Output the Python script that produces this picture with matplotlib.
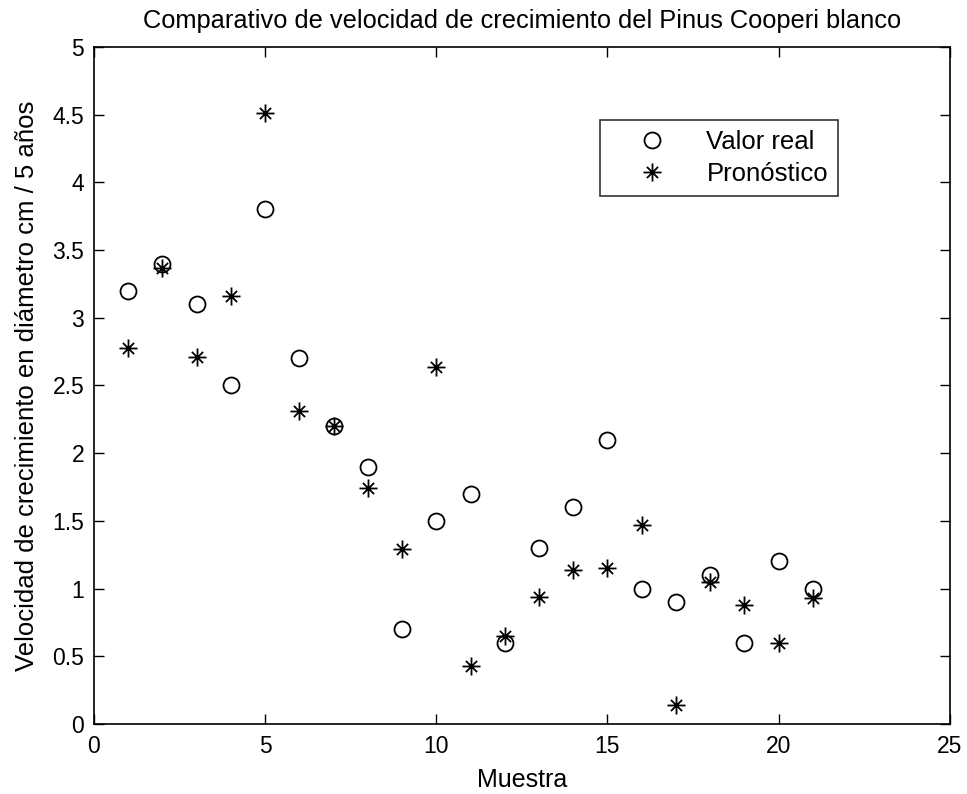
import matplotlib
matplotlib.use('Agg')
import matplotlib.pyplot as plt
from matplotlib.path import Path

plt.rcParams['font.family'] = ['Liberation Sans', 'DejaVu Sans']

muestra = list(range(1, 22))
valor_real = [3.2, 3.4, 3.1, 2.5, 3.8, 2.7, 2.2, 1.9, 0.7, 1.5, 1.7,
              0.6, 1.3, 1.6, 2.1, 1.0, 0.9, 1.1, 0.6, 1.2, 1.0]
pronostico = [2.78, 3.37, 2.71, 3.16, 4.51, 2.31, 2.2, 1.74, 1.29, 2.64, 0.43,
              0.65, 0.94, 1.14, 1.15, 1.47, 0.14, 1.05, 0.88, 0.6, 0.93]

# asterisk marker: plus with shorter diagonals
d = 0.62
ast = Path([(-1, 0), (1, 0), (0, -1), (0, 1), (-d, -d), (d, d), (-d, d), (d, -d)],
           [Path.MOVETO, Path.LINETO] * 4)

fig = plt.figure(figsize=(9.67, 7.94), dpi=100)
ax = fig.add_axes([0.0972, 0.0882, 0.885, 0.8526])

ax.plot(muestra, valor_real, linestyle='none', marker='o', markersize=11.5,
        markerfacecolor='none', markeredgecolor='black', markeredgewidth=1.3,
        label='Valor real')
ax.plot(muestra, pronostico, linestyle='none', marker=ast, markersize=13,
        markerfacecolor='none', markeredgecolor='black', markeredgewidth=1.3,
        label='Pronóstico')

ax.set_xlim(0, 25)
ax.set_ylim(0, 5)
ax.set_xticks(range(0, 26, 5))
ax.set_yticks([0, 0.5, 1, 1.5, 2, 2.5, 3, 3.5, 4, 4.5, 5])
ax.set_yticklabels(['0', '0.5', '1', '1.5', '2', '2.5', '3', '3.5', '4', '4.5', '5'])
ax.tick_params(direction='in', top=True, right=True, length=7, width=1,
               labelsize=16.5)
ax.tick_params(axis='x', pad=8)
ax.tick_params(axis='y', pad=7)
for s in ax.spines.values():
    s.set_linewidth(1.2)

ax.set_xlabel('Muestra', fontsize=18, labelpad=7)
ax.set_ylabel('Velocidad de crecimiento en diámetro cm / 5 años', fontsize=18.5, labelpad=10)
ax.set_title('Comparativo de velocidad de crecimiento del Pinus Cooperi blanco',
             fontsize=18.3, pad=14)

leg = ax.legend(loc='upper left', bbox_to_anchor=(0.591, 0.892), fontsize=18.5,
                frameon=True, fancybox=False, edgecolor='black',
                handletextpad=0.45, borderpad=0.4, labelspacing=0.3,
                handlelength=3.3, borderaxespad=0)
leg.get_frame().set_linewidth(1.2)

fig.savefig('out.png', dpi=100)
